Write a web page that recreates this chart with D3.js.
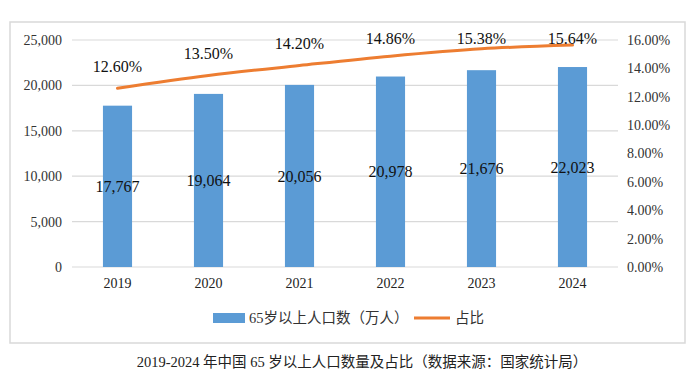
<!DOCTYPE html>
<html>
<head>
<meta charset="utf-8">
<script src="https://cdn.jsdelivr.net/npm/d3@7"></script>
<style>
  body { margin: 0; background: #fff; }
  text { font-family: "Liberation Serif", "Times New Roman", "Noto Sans CJK SC", serif; }
</style>
</head>
<body>
<svg width="692" height="373"></svg>
<script>
var years = ["2019", "2020", "2021", "2022", "2023", "2024"];
var population = [17767, 19064, 20056, 20978, 21676, 22023];
var share = [12.60, 13.50, 14.20, 14.86, 15.38, 15.64];
var leftTicks = [0, 5000, 10000, 15000, 20000, 25000];
var rightTicks = [0, 2, 4, 6, 8, 10, 12, 14, 16];

var svg = d3.select("svg");
var barColor = "#5B9BD5", lineColor = "#ED7D31";
var cjk = "\"Liberation Serif\", \"Noto Sans CJK SC\", serif";

// outer frame
svg.append("rect")
  .attr("x", 10).attr("y", 22).attr("width", 675).attr("height", 321)
  .attr("fill", "none").attr("stroke", "#d9d9d9").attr("stroke-width", 1.5);

var x = d3.scaleBand().domain(years).range([72, 618]).paddingInner(0.68).paddingOuter(0.34);
var yL = d3.scaleLinear().domain([0, 25000]).range([267, 40]);
var yR = d3.scaleLinear().domain([0, 16]).range([267, 40]);

// gridlines
svg.append("g").selectAll("line").data(leftTicks).enter().append("line")
  .attr("x1", 72).attr("x2", 618)
  .attr("y1", function(d) { return yL(d); }).attr("y2", function(d) { return yL(d); })
  .attr("stroke", "#d9d9d9").attr("stroke-width", 1.2);

// left axis
var fmt = d3.format(",");
var axL = svg.append("g").attr("transform", "translate(68,0)")
  .call(d3.axisLeft(yL).tickValues(leftTicks).tickSize(0).tickPadding(6).tickFormat(fmt));
axL.select(".domain").remove();
axL.selectAll("text").attr("font-size", 14).attr("fill", "#333")
  .style("font-family", "Liberation Serif, serif");

// right axis
var axR = svg.append("g").attr("transform", "translate(621,0)")
  .call(d3.axisRight(yR).tickValues(rightTicks).tickSize(0).tickPadding(6)
    .tickFormat(function(d) { return d.toFixed(2) + "%"; }));
axR.select(".domain").remove();
axR.selectAll("text").attr("font-size", 14).attr("fill", "#333")
  .style("font-family", "Liberation Serif, serif");

// bottom axis labels
var axB = svg.append("g").attr("transform", "translate(0,275)")
  .call(d3.axisBottom(x).tickSize(0).tickPadding(3));
axB.select(".domain").remove();
axB.selectAll("text").attr("font-size", 14).attr("fill", "#222")
  .style("font-family", "Liberation Serif, serif");

// bars
svg.append("g").selectAll("rect").data(population).enter().append("rect")
  .attr("x", function(d, i) { return x(years[i]); })
  .attr("width", x.bandwidth())
  .attr("y", function(d) { return yL(d); })
  .attr("height", function(d) { return yL(0) - yL(d); })
  .attr("fill", barColor);

svg.append("g").selectAll("text").data(population).enter().append("text")
  .attr("x", function(d, i) { return x(years[i]) + x.bandwidth() / 2; })
  .attr("y", function(d) { return (yL(d) + yL(0)) / 2; })
  .attr("dy", "0.35em")
  .attr("text-anchor", "middle")
  .attr("font-size", 16).attr("fill", "#111")
  .text(function(d) { return fmt(d); });

// line
var line = d3.line()
  .x(function(d, i) { return x(years[i]) + x.bandwidth() / 2; })
  .y(function(d) { return yR(d); })
  .curve(d3.curveMonotoneX);
svg.append("path").datum(share)
  .attr("d", line).attr("fill", "none")
  .attr("stroke", lineColor).attr("stroke-width", 3).attr("stroke-linecap", "round");

svg.append("g").selectAll("text").data(share).enter().append("text")
  .attr("x", function(d, i) { return x(years[i]) + x.bandwidth() / 2; })
  .attr("y", function(d) { return Math.max(yR(d) - 22, 38); })
  .attr("dy", "0.35em")
  .attr("text-anchor", "middle")
  .attr("font-size", 16).attr("fill", "#111")
  .text(function(d) { return d.toFixed(2) + "%"; });

// legend
var lg = svg.append("g");
lg.append("rect").attr("x", 213).attr("y", 313).attr("width", 32).attr("height", 10).attr("fill", barColor);
lg.append("text").attr("x", 249).attr("y", 318).attr("dy", "0.35em")
  .attr("font-size", 14.5).attr("fill", "#333").style("font-family", cjk)
  .text("65岁以上人口数（万人）");
lg.append("line").attr("x1", 414).attr("x2", 450).attr("y1", 318).attr("y2", 318)
  .attr("stroke", lineColor).attr("stroke-width", 3);
lg.append("text").attr("x", 455).attr("y", 318).attr("dy", "0.35em")
  .attr("font-size", 14.5).attr("fill", "#333").style("font-family", cjk)
  .text("占比");

// caption
svg.append("text").attr("x", 362).attr("y", 362).attr("dy", "0.35em")
  .attr("text-anchor", "middle").attr("font-size", 14.5).attr("fill", "#222")
  .style("font-family", cjk)
  .text("2019-2024 年中国 65 岁以上人口数量及占比（数据来源：国家统计局）");
</script>
</body>
</html>
